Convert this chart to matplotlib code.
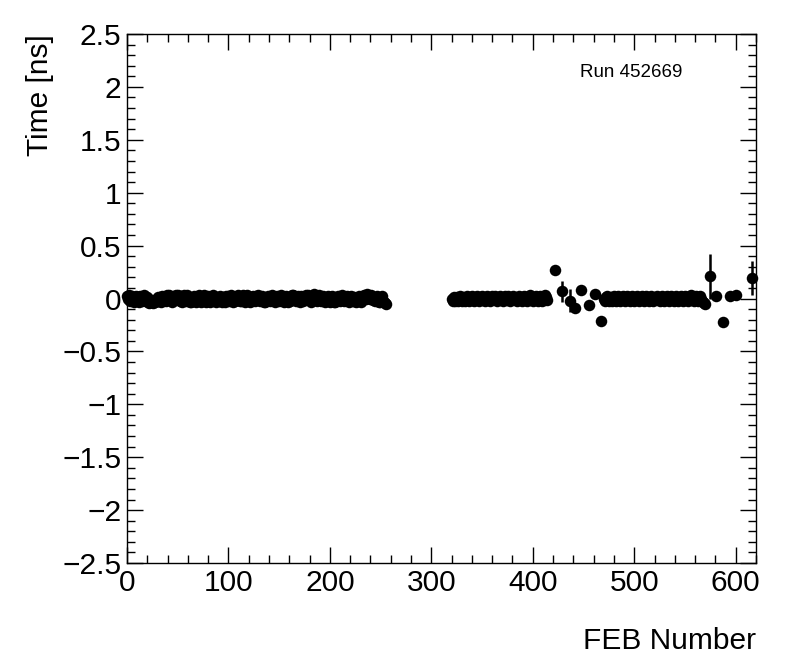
#feb_timing
import numpy as np
import matplotlib
matplotlib.use("Agg")
from matplotlib import pyplot as plt
from matplotlib.ticker import MultipleLocator

# Mean time per FEB, in units of 0.01 ns (dense groups of FEBs)
first_start = 0
first_vals = [
    2, 0, 3, -2, 1, 2, -1, -3, 0, 2, 1, -2, -3, 2, 0, -2,
    1, 3, -2, 0, 1, -3, -4, -2, -3, -1, -4, -2, -3, -1, -2, 1,
    -2, 1, -3, 2, 0, 1, -2, 3, 0, 3, 1, -1, -3, 0, 2, -1,
    3, 0, 3, 1, -2, 2, -3, 0, 3, 0, -2, 3, 1, -1, -3, -3,
    -2, 0, 2, 1, -3, -2, 0, 3, 0, -3, -2, 1, 3, 0, -3, 1,
    2, -1, -3, 0, 2, 3, 1, -1, -3, 0, 1, -2, 2, 0, -3, 1,
    0, -3, 2, 0, 2, -2, 0, 3, -1, -3, -2, 1, 2, 3, 0, -2,
    -2, 1, 3, 0, -3, 0, 3, 2, -1, -3, -2, 0, 2, 1, -2, 2,
    0, 3, 0, -2, 1, 2, -1, -3, -3, -2, 0, 2, 1, -2, 0, 3,
    2, 0, -3, 1, 2, 0, -2, 0, 3, 1, -1, -3, 0, 2, 1, -3,
    0, -2, 1, 3, 3, 2, 0, -2, 0, 2, 1, -3, 2, 0, -2, 1,
    3, 0, 3, 2, -1, -3, 0, 2, 4, 2, 0, -2, 1, 3, 0, -2,
    1, 2, 0, -3, -2, 0, 2, 1, -3, 0, 2, 0, -3, -3, -2, 1,
    2, 0, -2, 1, 3, 0, -2, 0, 1, 2, -1, -3, 0, 2, 0, -2,
    1, -2, -3, -2, 0, 2, 0, -3, 0, 2, 3, 2, 0, 4, 3, 2,
    0, 3, 1, -1, -2, 0, 2, 0, -3, -3, 0, 2, -2, -3, -4, -5,
]
second_start = 320
second_vals = [
    0, -2, 1, -2, 0, 1, -2, 0, 2, 0, -2, 1, 0, -2, 0, 2,
    0, -2, 1, 0, 2, -1, -2, 0, 1, 2, 0, -2, 0, 1, 2, 0,
    -1, -2, 0, 2, 1, 0, -2, 0, 2, 0, 1, 2, 0, -2, 0, 1,
    2, 0, 0, -2, 1, 2, 0, -1, 2, 0, -2, 0, 1, 2, 0, -1,
    -2, 0, 2, 0, 1, -2, 0, 2, 0, -1, -2, 0, 2, 3, 1, 0,
    -2, 0, 1, 2, 0, -2, 0, 2, 0, -2, 0, 2, 3, 1, -1,
]
third_start = 470
third_vals = [
    0, -2, 1, 2, 0, -2, 0, 1, -2, 0, 2, 0, -2, 0, 2, -1,
    -2, 0, 1, 2, 0, -2, 0, 2, 0, 1, -2, 0, 2, 0, -2, 1,
    0, 2, 0, -2, 0, 1, 2, 0, -2, 0, 2, 0, 1, -2, 0, 2,
    0, -2, 0, 1, 2, 0, 0, -2, 0, 2, 0, -2, 1, 0, 2, 0,
    -2, 0, 2, 0, 1, -2, 0, 2, 0, -2, 0, 1, 2, 0, -2, 0,
    2, 0, 1, -2, 0, 2, 3, 1, 0, -2, 0, 2, 0, -2, 0, 2,
    0, -2, -3, -4, -5,
]

# Isolated FEBs with visible scatter and error bars
out_x = [422, 429, 437, 442, 448, 455, 461, 467, 575, 581, 588, 594, 600, 616]
out_y = [0.27, 0.07, -0.02, -0.09, 0.08, -0.06, 0.04, -0.21,
         0.21, 0.02, -0.22, 0.02, 0.03, 0.19]
out_err = [0.02, 0.10, 0.11, 0.03, 0.02, 0.02, 0.02, 0.03,
           0.21, 0.02, 0.02, 0.02, 0.02, 0.16]

plt.rcParams['font.family'] = ['Liberation Sans', 'DejaVu Sans']

x, y = [], []
for start, vals in [(first_start, first_vals), (second_start, second_vals),
                    (third_start, third_vals)]:
    for i, v in enumerate(vals):
        x.append(start + i)
        y.append(v / 100.0)
x = x + out_x
y = y + out_y
err = [0.01] * (len(x) - len(out_x)) + out_err

fig = plt.figure(dpi=100, figsize=(7.96, 6.72))
ax = fig.add_axes([0.1595, 0.1622, 0.7902, 0.7872])

ax.errorbar(x, y, yerr=err, fmt='o', color='black', ms=8.3, mew=0,
            elinewidth=1.8, capsize=0, clip_on=False, zorder=3)

ax.set_xlim(0, 620)
ax.set_ylim(-2.5, 2.5)
ax.xaxis.set_major_locator(MultipleLocator(100))
ax.xaxis.set_minor_locator(MultipleLocator(20))
ax.yaxis.set_major_locator(MultipleLocator(0.5))
ax.yaxis.set_minor_locator(MultipleLocator(0.1))
ax.yaxis.set_major_formatter(plt.FuncFormatter(
    lambda v, p: ('%g' % v).replace('-', '\u2212')))

ax.tick_params(which='both', direction='in', top=True, right=True,
               width=1, labelsize=21.5)
ax.tick_params(which='major', length=11.5, pad=4)
ax.tick_params(which='minor', length=5.8)
for s in ax.spines.values():
    s.set_linewidth(1)

ax.set_xlabel('FEB Number', fontsize=21.5, loc='right', labelpad=22)
ax.set_ylabel('Time [ns]', fontsize=21.5, loc='top', labelpad=6)

ax.text(0.721, 0.928, 'Run 452669', transform=ax.transAxes, fontsize=13.5,
        ha='left', va='center')

fig.savefig('out.png', dpi=100)
